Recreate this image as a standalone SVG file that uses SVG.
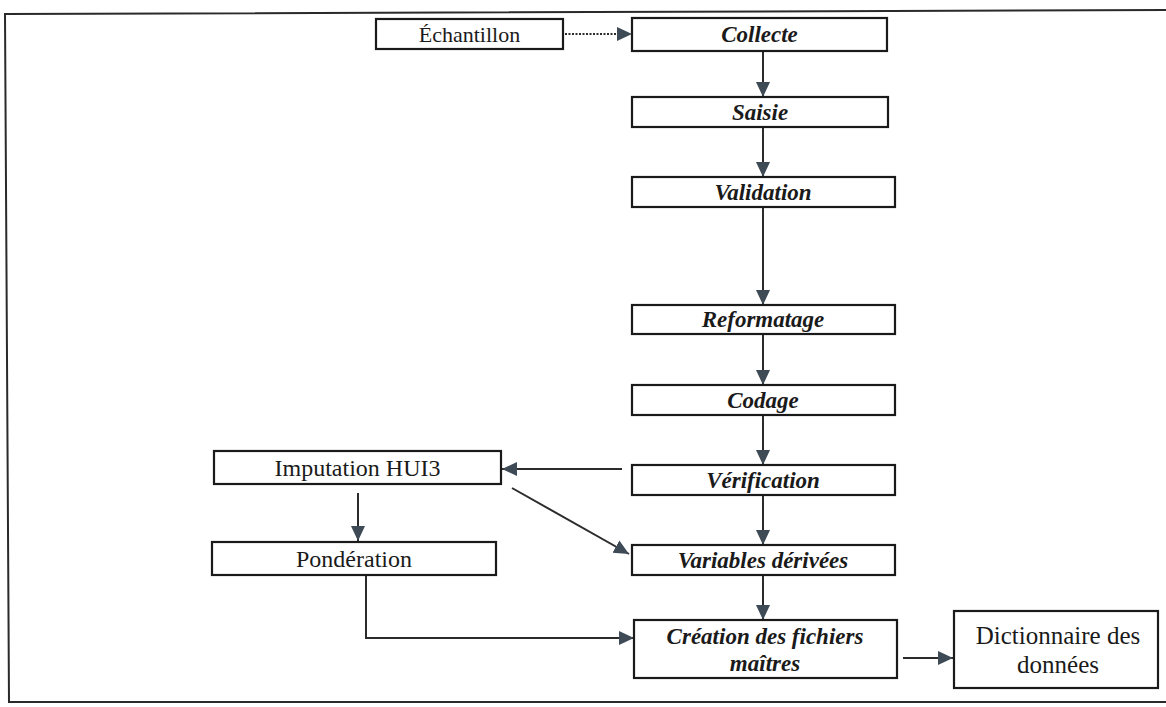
<svg xmlns="http://www.w3.org/2000/svg" width="1166" height="707" viewBox="0 0 1166 707">
<defs>
<marker id="ah" markerUnits="userSpaceOnUse" markerWidth="16" markerHeight="16" viewBox="0 0 16 16" refX="15" refY="8" orient="auto">
<path d="M0,1 L15,8 L0,15 Z" fill="#3e4a56"/>
</marker>
<style>
.box{fill:#fff;stroke:#1a1a1a;stroke-width:2.2}
.frame{fill:none;stroke:#2a2a2a;stroke-width:2}
.c{fill:none;stroke:#2b2b2b;stroke-width:2;marker-end:url(#ah)}
.p{font-family:"Liberation Serif","DejaVu Serif",serif;font-size:23px;font-weight:bold;font-style:italic;fill:#1a1a1a;text-anchor:middle}
.s{font-family:"Liberation Serif","DejaVu Serif",serif;font-size:22px;fill:#1a1a1a;text-anchor:middle}
</style>
</defs>
<rect width="1166" height="707" fill="#fff"/>
<path class="frame" d="M1170,10 L5,14 L9,702 L1170,702"/>
<g id="connectors">
<path class="c" d="M565,34 L632,34" stroke-dasharray="2,1.5"/>
<path class="c" d="M763,51 L763,97"/>
<path class="c" d="M763,127 L763,177"/>
<path class="c" d="M763,207 L763,305"/>
<path class="c" d="M763,334 L763,385"/>
<path class="c" d="M763,415 L763,465"/>
<path class="c" d="M763,495 L763,545"/>
<path class="c" d="M763,575 L763,620"/>
<path class="c" d="M622,469 L502,469"/>
<path class="c" d="M512,488 L629,554"/>
<path class="c" d="M358,493 L358,541"/>
<path class="c" d="M366,575 L366,638 L634,638"/>
<path class="c" d="M903,658 L953,658"/>
</g>
<g id="echantillon"><rect class="box" x="376" y="19" width="187" height="30"/><text class="s" x="469.5" y="42">Échantillon</text></g>
<g id="collecte"><rect class="box" x="632" y="18" width="255" height="33"/><text class="p" x="759.5" y="42">Collecte</text></g>
<g id="saisie"><rect class="box" x="632" y="97" width="256" height="30"/><text class="p" x="760" y="120">Saisie</text></g>
<g id="validation"><rect class="box" x="632" y="177" width="263" height="30"/><text class="p" x="763" y="200">Validation</text></g>
<g id="reformatage"><rect class="box" x="632" y="305" width="263" height="29"/><text class="p" x="763" y="327">Reformatage</text></g>
<g id="codage"><rect class="box" x="632" y="385" width="263" height="30"/><text class="p" x="763" y="408">Codage</text></g>
<g id="verification"><rect class="box" x="632" y="465" width="263" height="30"/><text class="p" x="763" y="488">Vérification</text></g>
<g id="variables"><rect class="box" x="632" y="545" width="263" height="30"/><text class="p" x="763" y="568">Variables dérivées</text></g>
<g id="creation"><rect class="box" x="634" y="620" width="263" height="58"/><text class="p" x="765" y="644">Création des fichiers</text><text class="p" x="765" y="671">maîtres</text></g>
<g id="dictionnaire"><rect class="box" x="954" y="611" width="204" height="77"/><text class="s" x="1058" y="644" style="font-size:25px">Dictionnaire des</text><text class="s" x="1058" y="673" style="font-size:25px">données</text></g>
<g id="imputation"><rect class="box" x="214" y="451" width="287" height="33"/><text class="s" x="357.5" y="476" style="font-size:24px">Imputation HUI3</text></g>
<g id="ponderation"><rect class="box" x="212" y="542" width="284" height="33"/><text class="s" x="354" y="567" style="font-size:24px">Pondération</text></g>
</svg>
